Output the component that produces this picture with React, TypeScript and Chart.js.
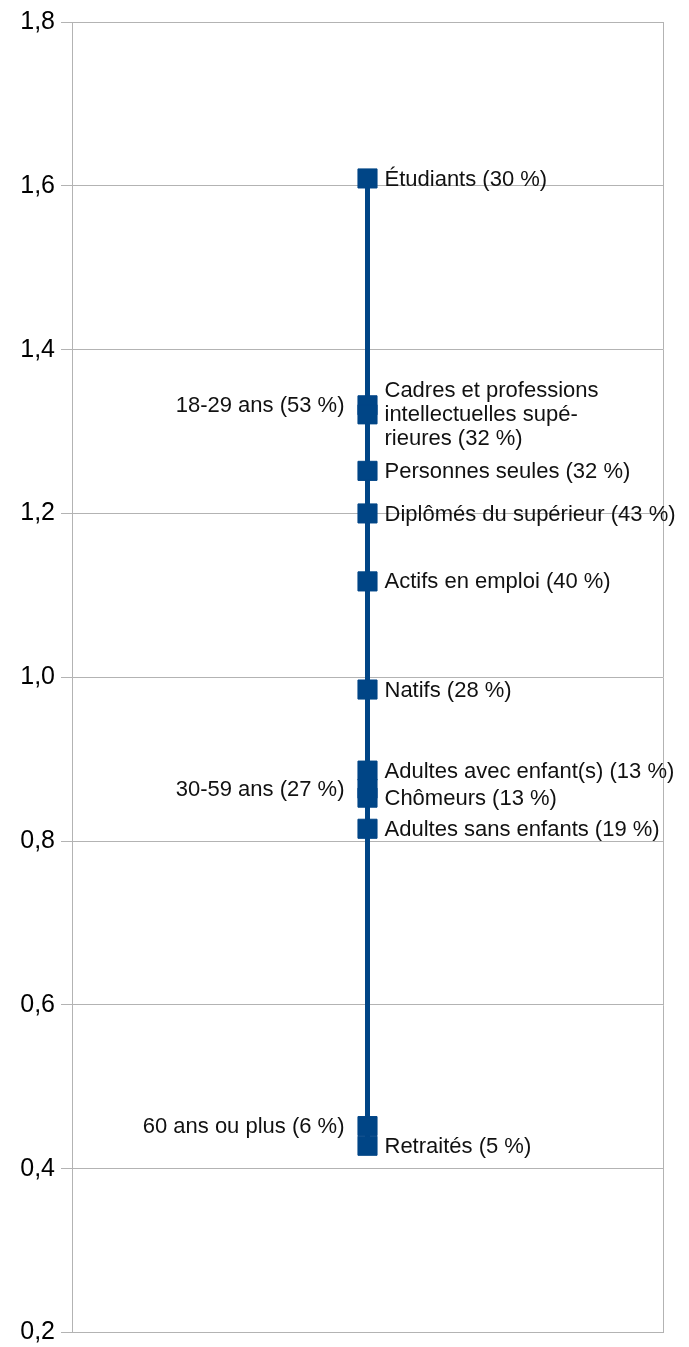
import React, { useEffect, useRef } from "react";
import { Chart, registerables } from "chart.js";

Chart.register(...registerables);

// Groups (label text), in order from top to bottom
const categories: string[] = [
  "Étudiants",
  "18-29 ans",
  "Cadres et professions\nintellectuelles supé-\nrieures",
  "Personnes seules",
  "Diplômés du supérieur",
  "Actifs en emploi",
  "Natifs",
  "Adultes avec enfant(s)",
  "30-59 ans",
  "Chômeurs",
  "Adultes sans enfants",
  "60 ans ou plus",
  "Retraités",
];

// Ratio values (y axis)
const ratios: number[] = [
  1.609, 1.332, 1.321, 1.252, 1.2, 1.117, 0.985, 0.886, 0.864, 0.853, 0.815, 0.452, 0.428,
];

// Shares shown in parentheses (%)
const shares: number[] = [30, 53, 32, 32, 43, 40, 28, 13, 27, 13, 19, 6, 5];

// Age groups are labelled on the left side of the line
const ageGroups: string[] = ["18-29 ans", "30-59 ans", "60 ans ou plus"];

// Y axis tick values
const yTicks: number[] = [0.2, 0.4, 0.6, 0.8, 1.0, 1.2, 1.4, 1.6, 1.8];

const BLUE = "#004586";
const GRID = "#b3b3b3";
const FONT = '"Liberation Sans", Arial, sans-serif';

const labelPlugin = {
  id: "pointLabels",
  afterDatasetsDraw(chart: any) {
    const meta = chart.getDatasetMeta(0);
    const ctx = chart.ctx as CanvasRenderingContext2D;
    ctx.save();
    ctx.font = `22px ${FONT}`;
    ctx.fillStyle = "#111";
    ctx.textBaseline = "middle";
    meta.data.forEach((pt: any, i: number) => {
      const name = categories[i];
      const lines = `${name} (${shares[i]} %)`.split("\n");
      const left = ageGroups.includes(name);
      const x = left ? pt.x - 23 : pt.x + 17;
      ctx.textAlign = left ? "right" : "left";
      const lh = 24;
      lines.forEach((ln, j) => {
        ctx.fillText(ln, x, pt.y + 1 + (j - (lines.length - 1) / 2) * lh);
      });
    });
    ctx.restore();
  },
};

export default function App() {
  const ref = useRef<HTMLCanvasElement | null>(null);

  useEffect(() => {
    document.body.style.margin = "0";
    if (!ref.current) return;
    const chart = new Chart(ref.current, {
      type: "scatter",
      data: {
        datasets: [
          {
            data: ratios.map((v) => ({ x: 0, y: v })),
            showLine: true,
            borderColor: BLUE,
            borderWidth: 5,
            backgroundColor: BLUE,
            pointStyle: "rect",
            pointRadius: 13.5,
            pointBorderWidth: 1,
            pointBorderColor: BLUE,
            pointBackgroundColor: BLUE,
          },
        ],
      },
      options: {
        responsive: false,
        animation: false,
        events: [],
        layout: { padding: { top: 22, bottom: 7, left: 0, right: 26 } },
        plugins: { legend: { display: false }, tooltip: { enabled: false }, title: { display: false } },
        scales: {
          x: {
            type: "linear",
            min: -1,
            max: 1,
            afterBuildTicks: (scale: any) => {
              scale.ticks = [{ value: -1 }, { value: 1 }];
            },
            afterFit: (scale: any) => {
              scale.height = 0;
              scale.paddingLeft = 0;
              scale.paddingRight = 0;
            },
            ticks: { display: false },
            grid: { color: GRID, lineWidth: 1, tickLength: 0, drawTicks: false },
            border: { display: false },
          },
          y: {
            type: "linear",
            min: 0.2,
            max: 1.8,
            afterBuildTicks: (scale: any) => {
              scale.ticks = yTicks.map((v) => ({ value: v }));
            },
            afterFit: (scale: any) => {
              scale.width = 72;
              scale.paddingTop = 0;
              scale.paddingBottom = 0;
            },
            ticks: {
              color: "#000",
              font: { family: FONT, size: 25 },
              padding: 6,
              callback: (v: any) => Number(v).toFixed(1).replace(".", ","),
            },
            grid: { color: GRID, lineWidth: 1, tickLength: 11 },
            border: { display: true, color: GRID },
          },
        },
      },
      plugins: [labelPlugin],
    });
    return () => chart.destroy();
  }, []);

  return (
    <div style={{ width: 689, height: 1347, background: "#fff" }}>
      <canvas ref={ref} width={689} height={1347} style={{ display: "block" }} />
    </div>
  );
}
